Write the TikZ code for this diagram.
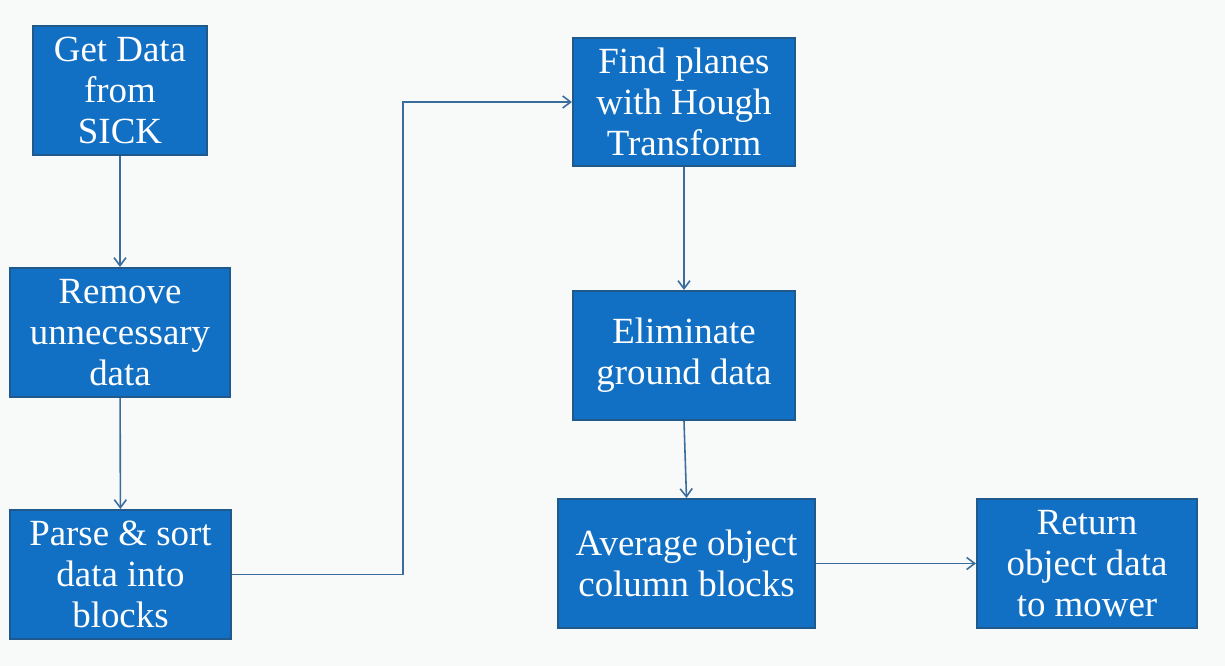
\documentclass[tikz,border=0pt]{standalone}
\usepackage{fontspec}
\setmainfont{Liberation Serif}
\usetikzlibrary{positioning, arrows.meta}

\definecolor{boxblue}{HTML}{1270C4}
\definecolor{boxedge}{HTML}{205A8C}
\definecolor{linkblue}{HTML}{3A6C9C}
\definecolor{paper}{HTML}{F8F9F9}

\tikzset{
  stepbox/.style={draw=boxedge, line width=1.2pt, fill=boxblue, text=white,
    align=center, inner sep=0pt, minimum height=2.58cm,
    font=\fontsize{21}{23.3}\selectfont},
  flow/.style={draw=linkblue, line width=0.9pt, -{Straight Barb[length=1.6mm, width=2.4mm]}}
}

\begin{document}
\begin{tikzpicture}[x=0.02cm, y=-0.02cm]
    % 背景
    \fill[paper] (0, 0) rectangle (1225, 666);
    \useasboundingbox (0, 0) rectangle (1225, 666);

    % 左列
    \node[stepbox, minimum width=3.48cm] (get) at (120, 90.5) {Get Data\\from\\SICK};
    \node[stepbox, minimum width=4.40cm] (remove) at (120, 332.5) {Remove\\unnecessary\\data};
    \node[stepbox, minimum width=4.42cm] (parse) at (120.5, 574.5) {Parse \& sort\\data into\\blocks};

    % 中列
    \node[stepbox, minimum width=4.44cm, minimum height=2.56cm] (find) at (684, 102) {Find planes\\with Hough\\Transform};
    \node[stepbox, minimum width=4.44cm] (elim) at (684, 355.5) {Eliminate\\ground data};
    \node[stepbox, minimum width=5.14cm] (avg) at (686.5, 563.5) {Average object\\column blocks};

    % 右邊
    \node[stepbox, minimum width=4.40cm] (ret) at (1087, 563.5) {Return\\object data\\to mower};

    % 轉折點
    \coordinate (bend) at (403, 574.5);

    % 連線
    \draw[flow] (get) -- (remove);
    \draw[flow] (remove) -- (parse);
    \draw[flow] (parse.east) -- (bend) |- (find.west);
    \draw[flow] (find) -- (elim);
    \draw[flow] (elim.south) -- (avg.north);
    \draw[flow] (avg) -- (ret);
  \end{tikzpicture}
\end{document}
